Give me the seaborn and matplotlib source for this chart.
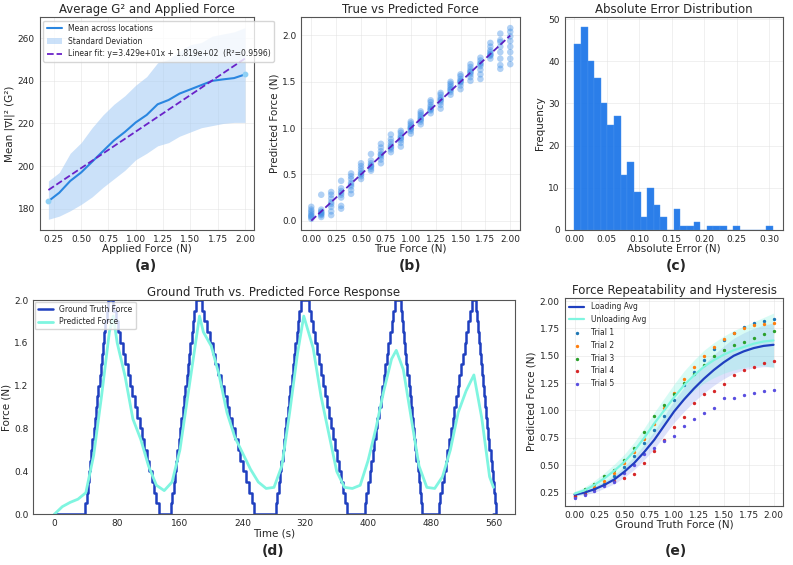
import numpy as np
import pandas as pd
import matplotlib
matplotlib.use("Agg")
import matplotlib.pyplot as plt
import seaborn as sns

# ---- (a) G^2 vs applied force
force_a = [0.2, 0.3, 0.4, 0.5, 0.6, 0.7, 0.8, 0.9, 1.0, 1.1, 1.2, 1.3, 1.4, 1.5, 1.6, 1.7, 1.8, 1.9, 2.0]
mean_g2 = [183.5, 187.5, 193, 197, 202, 207, 212, 216, 220.5, 224, 229, 231, 234, 236, 238, 240, 240.7, 241.3, 243]
g2_low = [175, 176.5, 179, 182, 185.5, 190, 194, 198, 203, 206, 209.5, 211, 214, 216, 218, 219, 220, 220.5, 220.5]
g2_high = [193, 197, 206, 211, 218, 224, 229, 233, 238, 242, 248.5, 250, 254, 257, 258, 261, 262, 263, 265]
fit_slope, fit_icpt = 34.29, 181.9

# ---- (b) true vs predicted
true_b = [0.0, 0.1, 0.2, 0.3, 0.4, 0.5, 0.6, 0.7, 0.8, 0.9, 1.0, 1.1, 1.2, 1.3, 1.4, 1.5, 1.6, 1.7, 1.8, 1.9, 2.0]
pred_b = [
    [0.02, 0.04, 0.06, 0.08, 0.10, 0.12, 0.15, 0.05],
    [0.04, 0.06, 0.08, 0.10, 0.12, 0.28, 0.07, 0.09],
    [0.06, 0.10, 0.15, 0.20, 0.24, 0.28, 0.31, 0.18],
    [0.13, 0.16, 0.25, 0.28, 0.32, 0.35, 0.43, 0.30],
    [0.29, 0.33, 0.37, 0.41, 0.45, 0.48, 0.51, 0.39],
    [0.45, 0.48, 0.50, 0.53, 0.56, 0.59, 0.62, 0.51],
    [0.54, 0.56, 0.58, 0.60, 0.62, 0.65, 0.72, 0.59],
    [0.62, 0.66, 0.69, 0.72, 0.75, 0.79, 0.83, 0.71],
    [0.74, 0.77, 0.80, 0.82, 0.85, 0.88, 0.93, 0.79],
    [0.80, 0.84, 0.87, 0.90, 0.92, 0.95, 0.97, 0.89],
    [0.94, 0.97, 0.99, 1.01, 1.03, 1.05, 1.07, 1.00],
    [1.04, 1.07, 1.10, 1.12, 1.14, 1.16, 1.18, 1.09],
    [1.16, 1.19, 1.21, 1.23, 1.25, 1.28, 1.30, 1.20],
    [1.21, 1.25, 1.28, 1.31, 1.33, 1.36, 1.38, 1.30],
    [1.36, 1.39, 1.42, 1.44, 1.46, 1.48, 1.50, 1.41],
    [1.42, 1.46, 1.49, 1.51, 1.53, 1.56, 1.58, 1.50],
    [1.51, 1.55, 1.58, 1.61, 1.63, 1.66, 1.69, 1.60],
    [1.53, 1.58, 1.63, 1.67, 1.70, 1.73, 1.76, 1.69],
    [1.75, 1.78, 1.80, 1.82, 1.84, 1.88, 1.92, 1.79],
    [1.64, 1.68, 1.75, 1.82, 1.88, 1.93, 2.02, 1.95],
    [1.69, 1.75, 1.82, 1.88, 1.94, 1.99, 2.04, 2.08],
]

# ---- (c) absolute error histogram
err_bin_width = 0.0102
err_counts = [44, 48, 40, 36, 30, 25, 27, 13, 16, 9, 3, 10, 6, 3, 0, 5, 1, 1, 2, 0,
              1, 1, 1, 0, 1, 0, 0, 0, 0, 1]

# ---- (d) time response
cycles = [(38, 68, 72, 133), (147, 180, 184, 255), (281, 314, 322, 373),
          (394, 434, 440, 469), (488, 532, 536, 563)]
levels = [0.0, 0.1, 0.2, 0.3, 0.4, 0.5, 0.6, 0.7, 0.8, 0.9, 1.0,
          1.1, 1.2, 1.3, 1.4, 1.5, 1.6, 1.7, 1.8, 1.9, 2.0]
t_pred = [0, 10, 20, 30, 40, 50, 60, 70, 75, 80, 90, 100, 110, 120, 130, 140, 150, 160, 170, 180, 185,
          190, 200, 210, 220, 230, 240, 250, 260, 270, 280, 290, 300, 310, 318, 330, 340, 350, 360, 370,
          380, 390, 400, 410, 420, 430, 436, 445, 455, 465, 475, 485, 495, 505, 515, 525, 535, 545, 555, 560]
f_pred = [0.0, 0.07, 0.11, 0.14, 0.2, 0.55, 1.1, 1.7, 1.85, 1.6, 1.29, 0.89, 0.7, 0.45, 0.27, 0.22, 0.3, 0.6, 1.1, 1.6, 1.85,
          1.7, 1.57, 1.3, 0.95, 0.72, 0.57, 0.42, 0.3, 0.24, 0.25, 0.45, 0.95, 1.5, 1.85, 1.55, 1.1, 0.75, 0.4, 0.25,
          0.24, 0.27, 0.5, 0.8, 1.15, 1.45, 1.53, 1.35, 0.9, 0.45, 0.25, 0.24, 0.35, 0.6, 0.95, 1.15, 1.3, 0.9, 0.35, 0.25]

# ---- (e) repeatability
gt_e = [0.0, 0.1, 0.2, 0.3, 0.4, 0.5, 0.6, 0.7, 0.8, 0.9, 1.0, 1.1, 1.2, 1.3, 1.4, 1.5, 1.6, 1.7, 1.8, 1.9, 2.0]
load_avg = [0.23, 0.25, 0.28, 0.32, 0.37, 0.44, 0.52, 0.62, 0.73, 0.86, 0.99, 1.10, 1.20, 1.29, 1.37, 1.44, 1.50, 1.54, 1.57, 1.59, 1.60]
unload_avg = [0.24, 0.27, 0.32, 0.38, 0.45, 0.53, 0.63, 0.75, 0.88, 1.00, 1.12, 1.23, 1.32, 1.40, 1.46, 1.51, 1.55, 1.58, 1.61, 1.63, 1.64]
load_std = [0.01, 0.02, 0.03, 0.03, 0.04, 0.05, 0.06, 0.07, 0.08, 0.09, 0.10, 0.11, 0.12, 0.13, 0.14, 0.15, 0.16, 0.17, 0.18, 0.19, 0.20]
unload_std = [0.02, 0.03, 0.04, 0.05, 0.06, 0.07, 0.08, 0.09, 0.10, 0.11, 0.12, 0.13, 0.14, 0.15, 0.16, 0.17, 0.18, 0.19, 0.20, 0.22, 0.25]
trials = {
    "Trial 1": [0.21, 0.24, 0.28, 0.33, 0.40, 0.48, 0.58, 0.70, 0.82, 0.95, 1.10, 1.23, 1.35, 1.46, 1.56, 1.64, 1.71, 1.76, 1.80, 1.82, 1.84],
    "Trial 2": [0.22, 0.26, 0.30, 0.36, 0.43, 0.52, 0.62, 0.74, 0.88, 1.02, 1.16, 1.29, 1.40, 1.50, 1.58, 1.65, 1.71, 1.75, 1.78, 1.79, 1.80],
    "Trial 3": [0.24, 0.28, 0.33, 0.40, 0.46, 0.55, 0.66, 0.80, 0.95, 1.05, 1.15, 1.25, 1.33, 1.42, 1.50, 1.55, 1.60, 1.63, 1.66, 1.70, 1.73],
    "Trial 4": [0.22, 0.24, 0.28, 0.32, 0.36, 0.38, 0.42, 0.52, 0.63, 0.73, 0.85, 0.94, 1.07, 1.15, 1.18, 1.24, 1.32, 1.37, 1.40, 1.43, 1.45],
    "Trial 5": [0.20, 0.23, 0.26, 0.31, 0.35, 0.43, 0.50, 0.60, 0.66, 0.72, 0.77, 0.86, 0.92, 0.98, 1.02, 1.11, 1.11, 1.14, 1.16, 1.18, 1.19],
}
trial_colors = ["#1f77b4", "#ff7f0e", "#2ca02c", "#d62728", "#5a4fe0"]

sns.set_style("white")
plt.rcParams["font.family"] = ["DejaVu Sans"]
plt.rcParams["xtick.labelsize"] = 6.5
plt.rcParams["ytick.labelsize"] = 6.5
plt.rcParams["axes.labelsize"] = 7.5
plt.rcParams["axes.titlesize"] = 8.5
plt.rcParams["axes.edgecolor"] = "#555555"

fig = plt.figure(figsize=(7.93, 5.65), dpi=100)
ax_a = fig.add_axes([0.050, 0.593, 0.270, 0.377])
ax_b = fig.add_axes([0.380, 0.593, 0.276, 0.377])
ax_c = fig.add_axes([0.712, 0.593, 0.276, 0.377])
ax_d = fig.add_axes([0.042, 0.090, 0.607, 0.379])
ax_e = fig.add_axes([0.712, 0.105, 0.276, 0.368])

def light_grid(ax):
    ax.grid(True, color="#dddddd", linewidth=0.5, alpha=0.6)
    ax.tick_params(length=2, pad=1.5)

# (a)
ax_a.fill_between(force_a, g2_low, g2_high, color="#a9cdf5", alpha=0.6, lw=0, label="Standard Deviation")
sns.lineplot(x=force_a, y=mean_g2, ax=ax_a, color="#2a86e0", lw=1.5, label="Mean across locations")
ax_a.scatter([force_a[0], force_a[-1]], [mean_g2[0], mean_g2[-1]], color="#8fd0f5", s=10, zorder=3)
fx = np.array([force_a[0], force_a[-1]])
fit_label = "Linear fit: y=3.429e+01x + 1.819e+02  (R²=0.9596)"
ax_a.plot(fx, fit_slope * fx + fit_icpt, "--", color="#6a22c8", lw=1.3, label=fit_label)
h, l = ax_a.get_legend_handles_labels()
order = [l.index("Mean across locations"), l.index("Standard Deviation"), l.index(fit_label)]
ax_a.legend([h[i] for i in order], [l[i] for i in order], loc="upper left", fontsize=5.5, framealpha=0.8)
ax_a.set_xlim(0.12, 2.08)
ax_a.set_ylim(170, 270)
ax_a.set_xticks([0.25, 0.5, 0.75, 1.0, 1.25, 1.5, 1.75, 2.0])
ax_a.set_yticks([180, 200, 220, 240, 260])
ax_a.set_xlabel("Applied Force (N)", labelpad=0)
ax_a.set_ylabel("Mean |∇I|² (G²)", labelpad=2)
ax_a.set_title("Average G² and Applied Force", pad=3)
light_grid(ax_a)

# (b)
df_b = pd.DataFrame([(t, p) for t, ps in zip(true_b, pred_b) for p in ps], columns=["true", "pred"])
sns.scatterplot(data=df_b, x="true", y="pred", ax=ax_b, color="#3d8ee6", alpha=0.4, s=22, edgecolor="none")
ax_b.plot([0, 2], [0, 2], "--", color="#5a1fc0", lw=1.3)
ax_b.set_xlim(-0.1, 2.1)
ax_b.set_ylim(-0.1, 2.2)
ax_b.set_xticks([0, 0.25, 0.5, 0.75, 1.0, 1.25, 1.5, 1.75, 2.0])
ax_b.set_xticklabels(["0.00", "0.25", "0.50", "0.75", "1.00", "1.25", "1.50", "1.75", "2.00"])
ax_b.set_yticks([0, 0.5, 1.0, 1.5, 2.0])
ax_b.set_xlabel("True Force (N)", labelpad=0)
ax_b.set_ylabel("Predicted Force (N)", labelpad=2)
ax_b.set_title("True vs Predicted Force", pad=3)
light_grid(ax_b)

# (c)
edges = [i * err_bin_width for i in range(len(err_counts) + 1)]
df_c = pd.DataFrame({"err": [e + err_bin_width / 2 for e in edges[:-1]], "n": err_counts})
sns.histplot(data=df_c, x="err", weights="n", bins=edges, ax=ax_c, color="#1f77e8",
             alpha=0.95, edgecolor="#4a95ee", linewidth=0.3)
ax_c.set_xlim(-0.015, 0.322)
ax_c.set_ylim(0, 50.5)
ax_c.set_xticks([0, 0.05, 0.1, 0.15, 0.2, 0.25, 0.3])
ax_c.set_xticklabels(["0.00", "0.05", "0.10", "0.15", "0.20", "0.25", "0.30"])
ax_c.set_yticks([0, 10, 20, 30, 40, 50])
ax_c.set_xlabel("Absolute Error (N)", labelpad=0)
ax_c.set_ylabel("Frequency", labelpad=2)
ax_c.set_title("Absolute Error Distribution", pad=3)
light_grid(ax_c)

# (d)
gt_t, gt_f = [0], [0.0]
for up0, pk0, pk1, dn1 in cycles:
    up_times = np.linspace(up0, pk0, len(levels))
    dn_times = np.linspace(pk1, dn1, len(levels))
    gt_t += list(up_times) + list(dn_times)
    gt_f += levels + levels[::-1]
gt_t.append(560)
gt_f.append(0.0)
ax_d.step(gt_t, gt_f, where="post", color="#1f3fbf", lw=1.8, label="Ground Truth Force")
sns.lineplot(x=t_pred, y=f_pred, ax=ax_d, color="#7ff5e0", lw=2, label="Predicted Force")
ax_d.set_xlim(-27, 587)
ax_d.set_ylim(0, 2.0)
ax_d.set_xticks([0, 80, 160, 240, 320, 400, 480, 560])
ax_d.set_yticks([0, 0.4, 0.8, 1.2, 1.6, 2.0])
ax_d.set_xlabel("Time (s)", labelpad=0)
ax_d.set_ylabel("Force (N)", labelpad=2)
ax_d.set_title("Ground Truth vs. Predicted Force Response", pad=3)
ax_d.legend(loc="upper left", fontsize=5.5, borderaxespad=0.2)
ax_d.tick_params(length=2, pad=1.5)

# (e)
la, ua = np.array(load_avg), np.array(unload_avg)
ax_e.fill_between(gt_e, la - np.array(load_std), la + np.array(load_std), color="#7a8cf0", alpha=0.25, lw=0)
ax_e.fill_between(gt_e, ua - np.array(unload_std), ua + np.array(unload_std), color="#7ff5e0", alpha=0.3, lw=0)
sns.lineplot(x=gt_e, y=load_avg, ax=ax_e, color="#1f3fbf", lw=1.6, label="Loading Avg")
sns.lineplot(x=gt_e, y=unload_avg, ax=ax_e, color="#7ff5e0", lw=1.6, label="Unloading Avg")
for (name, vals), c in zip(trials.items(), trial_colors):
    ax_e.scatter(gt_e, vals, s=2, color=c, label=name)
ax_e.legend(loc="upper left", fontsize=5.5, frameon=False, borderaxespad=0.2)
ax_e.set_xlim(-0.1, 2.1)
ax_e.set_ylim(0.13, 2.03)
ax_e.set_xticks([0, 0.25, 0.5, 0.75, 1.0, 1.25, 1.5, 1.75, 2.0])
ax_e.set_xticklabels(["0.00", "0.25", "0.50", "0.75", "1.00", "1.25", "1.50", "1.75", "2.00"])
ax_e.set_yticks([0.25, 0.5, 0.75, 1.0, 1.25, 1.5, 1.75, 2.0])
ax_e.set_xlabel("Ground Truth Force (N)", labelpad=0)
ax_e.set_ylabel("Predicted Force (N)", labelpad=2)
ax_e.set_title("Force Repeatability and Hysteresis", pad=3)
light_grid(ax_e)

for txt, x, y in [("(a)", 146, 266), ("(b)", 410, 266), ("(c)", 676, 266),
                  ("(d)", 273, 551), ("(e)", 676, 551)]:
    fig.text(x / 793, 1 - y / 565, txt, ha="center", va="center", fontsize=10, fontweight="bold")

fig.savefig("out.png", dpi=100)
